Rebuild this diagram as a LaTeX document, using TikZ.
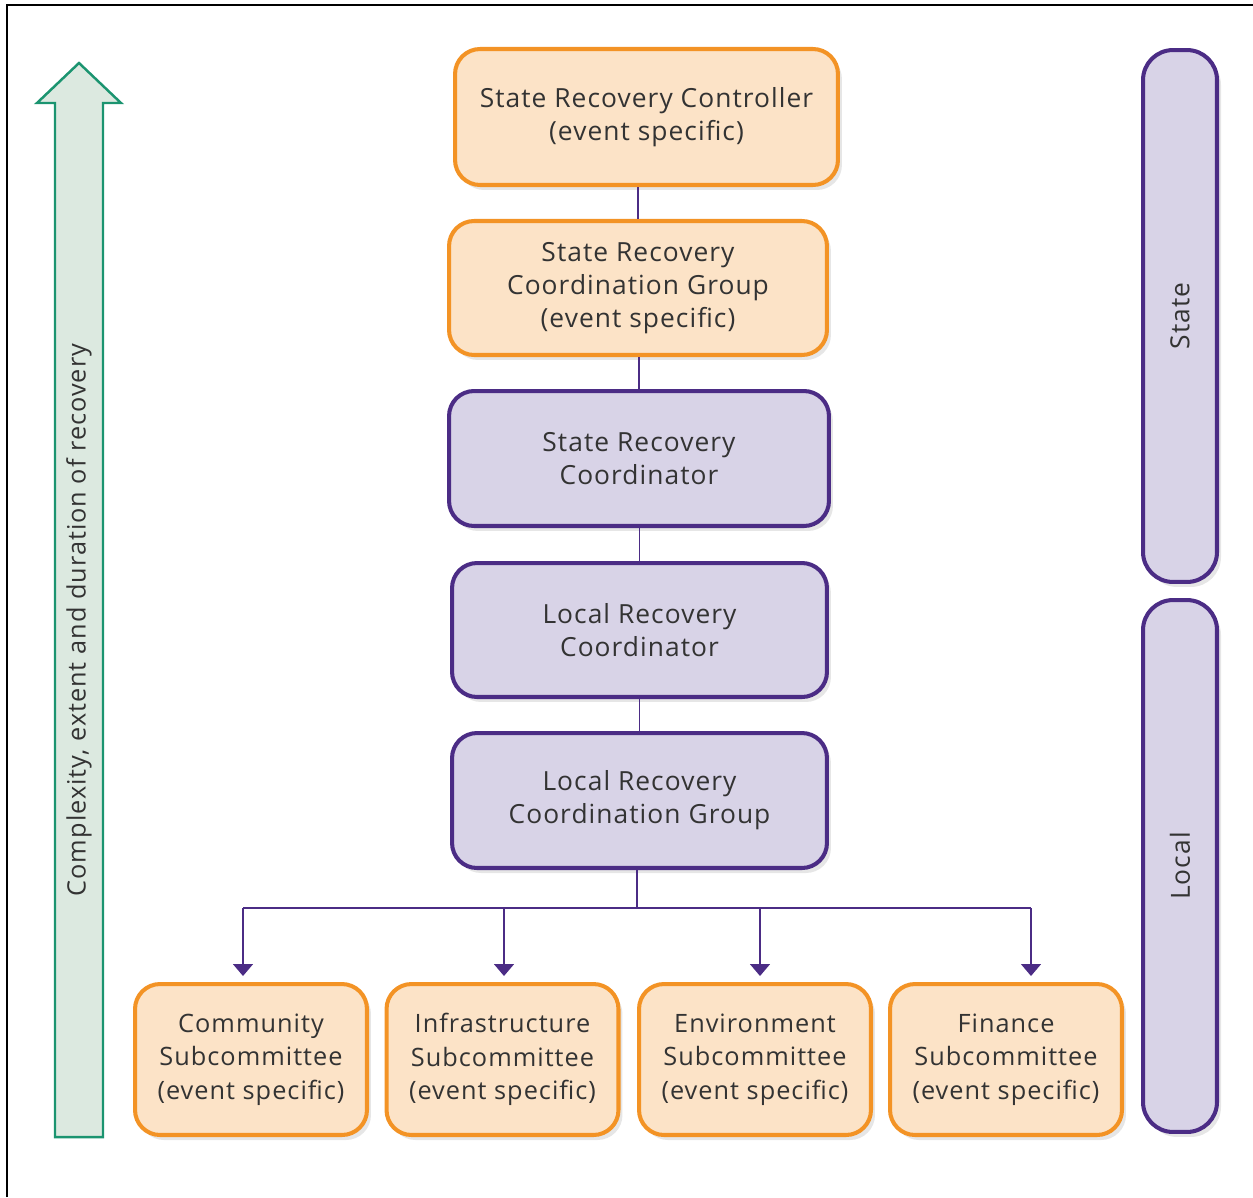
\documentclass[tikz,border=0pt]{standalone}
\usepackage{fontspec}
\setmainfont{Open Sans}[LetterSpace=4]
\usetikzlibrary{shadows,arrows.meta}
\definecolor{orangeline}{HTML}{F39325}
\definecolor{orangefill}{HTML}{FCE3C7}
\definecolor{purpleline}{HTML}{4B2C85}
\definecolor{purplefill}{HTML}{D8D3E7}
\definecolor{greenline}{HTML}{1B9470}
\definecolor{greenfill}{HTML}{DCE9E0}
\definecolor{textgrey}{HTML}{333333}
\tikzset{
  label text/.style={text=textgrey, font=\fontsize{15}{18.7}\selectfont},
  small text/.style={text=textgrey, font=\fontsize{14.4}{19.2}\selectfont},
  box/.style={rectangle, rounded corners=0.5cm, line width=2.3pt, align=center, label text,
    drop shadow={shadow xshift=0.08cm, shadow yshift=-0.1cm, opacity=0.2}},
  orangebox/.style={box, draw=orangeline, fill=orangefill},
  purplebox/.style={box, draw=purpleline, fill=purplefill},
  levelbar/.style={purplebox, rounded corners=0.6cm, minimum width=1.48cm, minimum height=10.64cm},
  subbox/.style={orangebox, small text, minimum width=4.64cm, minimum height=3.02cm},
  link/.style={draw=purpleline, line width=0.9pt},
  tip/.style={link, -{Triangle[width=0.4cm, length=0.24cm]}, shorten >=0.12cm}
}
\begin{document}
\begin{tikzpicture}[x=0.02cm, y=-0.02cm]
\useasboundingbox (0,0) rectangle (1253,1197);
\draw[line width=1.1pt] (7,1197) -- (7,5) -- (1253,5);

% arrow on the left
\draw[greenline, fill=greenfill, line width=1.4pt] (55,1137) -- (55,103) -- (37,103) -- (79,63)
  -- (121,103) -- (103,103) -- (103,1137) -- cycle;
\node[rotate=90, small text] (scale) at (79,620)
  {Complexity, extent and duration of recovery};

% chain of boxes
\node[orangebox, minimum width=7.66cm, minimum height=2.72cm] (src) at (646.5,117)
  {State Recovery Controller\\(event specific)};
\node[orangebox, minimum width=7.56cm, minimum height=2.68cm] (srcg) at (638,288)
  {State Recovery\\Coordination Group\\(event specific)};
\node[purplebox, minimum width=7.6cm, minimum height=2.7cm] (srco) at (639,458.5)
  {State Recovery\\Coordinator};
\node[purplebox, minimum width=7.5cm, minimum height=2.68cm] (lrco) at (639.5,630)
  {Local Recovery\\Coordinator};
\node[purplebox, minimum width=7.5cm, minimum height=2.7cm] (lrcg) at (639.5,800.5)
  {Local Recovery\\Coordination Group};

\draw[link] (srcg.north) -- (srcg.north |- src.south);
\draw[link] (srco.north) -- (srco.north |- srcg.south);
\draw[link] (lrco.north) -- (lrco.north |- srco.south);
\draw[link] (lrcg.north) -- (lrcg.north |- lrco.south);

% subcommittees
\node[subbox] (com) at (251,1059.5) {Community\\Subcommittee\\(event specific)};
\node[subbox] (inf) at (502.5,1059.5) {Infrastructure\\Subcommittee\\(event specific)};
\node[subbox] (env) at (755,1059.5) {Environment\\Subcommittee\\(event specific)};
\node[subbox] (fin) at (1006,1059.5) {Finance\\Subcommittee\\(event specific)};

\coordinate (split) at (637,908);
\coordinate (t1) at (243,908);
\coordinate (t2) at (504,908);
\coordinate (t3) at (760,908);
\coordinate (t4) at (1031,908);
\draw[link] (lrcg.south -| split) -- (split);
\draw[link] (t1) -- (t4);
\draw[tip] (t1) -- (t1 |- com.north);
\draw[tip] (t2) -- (t2 |- inf.north);
\draw[tip] (t3) -- (t3 |- env.north);
\draw[tip] (t4) -- (t4 |- fin.north);

% levels on the right
\node[levelbar] (state) at (1180,316) {};
\node[levelbar] (local) at (1180,866) {};
\node[rotate=90, label text] (statelbl) at (state) {State};
\node[rotate=90, label text] (locallbl) at (local) {Local};
\end{tikzpicture}
\end{document}
